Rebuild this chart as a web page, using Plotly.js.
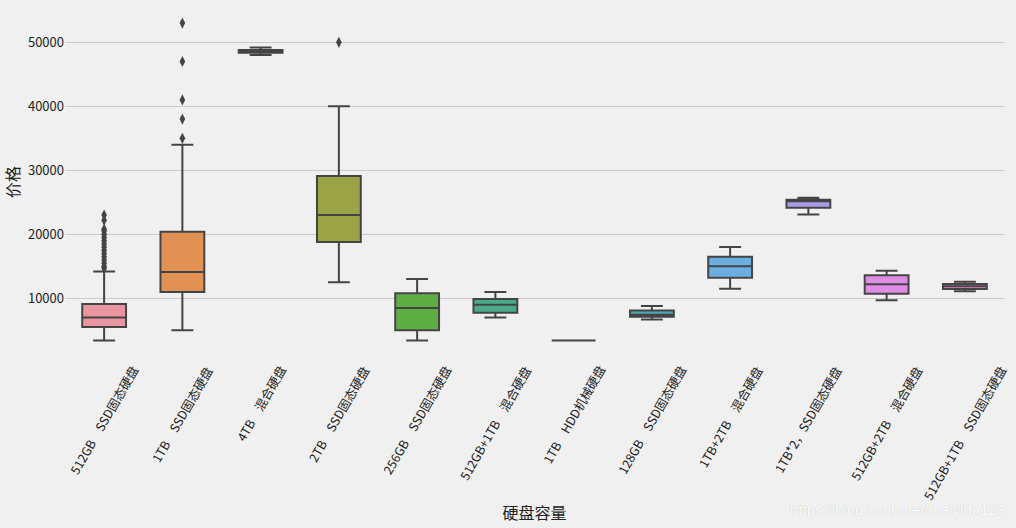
<!DOCTYPE html>
<html><head><meta charset="utf-8">
<script src="https://cdn.plot.ly/plotly-3.0.1.min.js"></script>
<style>html,body{margin:0;padding:0;background:#f0f0f0}</style>
</head><body><div id="chart" style="width:1016px;height:528px"></div>
<script>
// Categories (硬盘容量)
const categories = [
  "512GB\u3000SSD固态硬盘",
  "1TB\u3000SSD固态硬盘",
  "4TB\u3000混合硬盘",
  "2TB\u3000SSD固态硬盘",
  "256GB\u3000SSD固态硬盘",
  "512GB+1TB\u3000混合硬盘",
  "1TB\u3000HDD机械硬盘",
  "128GB\u3000SSD固态硬盘",
  "1TB+2TB\u3000混合硬盘",
  "1TB*2，SSD固态硬盘",
  "512GB+2TB\u3000混合硬盘",
  "512GB+1TB\u3000SSD固态硬盘"
];
// Box statistics (价格)
const lowerWhisker = [3400, 5000, 48000, 12500, 3400, 7000, 3400, 6700, 11500, 23100, 9700, 11100];
const q1Values     = [5500, 11000, 48350, 18800, 5000, 7750, 3400, 7130, 13200, 24150, 10700, 11450];
const medianValues = [7000, 14100, 48600, 23000, 8500, 9000, 3400, 7450, 15000, 25150, 12200, 11900];
const q3Values     = [9100, 20400, 48800, 29100, 10800, 9900, 3400, 8100, 16500, 25400, 13600, 12250];
const upperWhisker = [14200, 34000, 49200, 40000, 13000, 11000, 3400, 8800, 18000, 25700, 14300, 12600];
// Outliers: category index and price
const outlierIndex = [0,0,0,0,0,0,0,0,0,0,0,0,0,0,0,0, 1,1,1,1,1, 3];
const outlierPrice = [23000,22200,20800,20500,20000,19500,19000,18500,18000,17500,17000,16500,16000,15500,15000,14700,
                      53000,47000,41000,38000,35000, 50000];
const yTicks = [10000, 20000, 30000, 40000, 50000];

const palette = ["#e9959f","#e19153","#c39b4a","#9aa447","#5fae45","#4aab88","#4aa9a4","#4ba8b8","#6aafe0","#ac9ce8","#e08ce6","#e98ac5"];
const FONT = "'Noto Sans CJK SC', 'Noto Sans', sans-serif";

const traces = categories.map((c, i) => ({
  type: 'box',
  x: [c],
  q1: [q1Values[i]],
  median: [medianValues[i]],
  q3: [q3Values[i]],
  lowerfence: [lowerWhisker[i]],
  upperfence: [upperWhisker[i]],
  fillcolor: palette[i],
  line: {color: '#444444', width: 2},
  whiskerwidth: 0.5,
  boxpoints: false,
  showlegend: false,
  name: c
}));
traces.push({
  type: 'scatter', mode: 'markers',
  x: outlierIndex.map(i => categories[i]),
  y: outlierPrice,
  marker: {symbol: 'diamond-tall', size: 8, color: '#444444', line: {width: 0}},
  showlegend: false, hoverinfo: 'y'
});

const annotations = categories.map(c => ({
  x: c, xref: 'x', y: 0, yref: 'paper',
  text: c, showarrow: false, textangle: -60,
  xanchor: 'center', yanchor: 'top', yshift: -3,
  font: {family: FONT, size: 12.4, color: '#222222'}
}));
annotations.push({
  x: 1, xref: 'paper', y: -0.437, yref: 'paper', xanchor: 'right', yanchor: 'middle', xshift: 3,
  text: 'https://blog.csdn.net/maiyida123', showarrow: false,
  font: {family: "'Liberation Sans', Arial, sans-serif", size: 15, color: 'rgba(255,255,255,1)', shadow: '0px 0px 1px #b0b0b0'}
});

const layout = {
  width: 1016, height: 528,
  paper_bgcolor: '#f0f0f0', plot_bgcolor: '#f0f0f0',
  margin: {l: 65, r: 12, t: 7, b: 171},
  font: {family: FONT, size: 13, color: '#222222'},
  boxmode: 'overlay', boxgap: 0.2,
  xaxis: {
    type: 'category', categoryorder: 'array', categoryarray: categories,
    range: [-0.5, 11.5], showgrid: false, zeroline: false, showline: false,
    showticklabels: false, ticks: '',
    title: {text: '硬盘容量', font: {family: FONT, size: 16, color: '#222222'}, standoff: 150}
  },
  yaxis: {
    range: [830, 55515], tickvals: yTicks, tickformat: 'd',
    showgrid: true, gridcolor: '#cbcbcb', gridwidth: 1,
    zeroline: false, showline: false, ticks: '',
    tickfont: {family: FONT, size: 13, color: '#222222'},
    title: {text: '价格', font: {family: FONT, size: 16, color: '#222222'}, standoff: 4}
  },
  annotations: annotations
};
Plotly.newPlot('chart', traces, layout, {staticPlot: true});
</script>
</body></html>
